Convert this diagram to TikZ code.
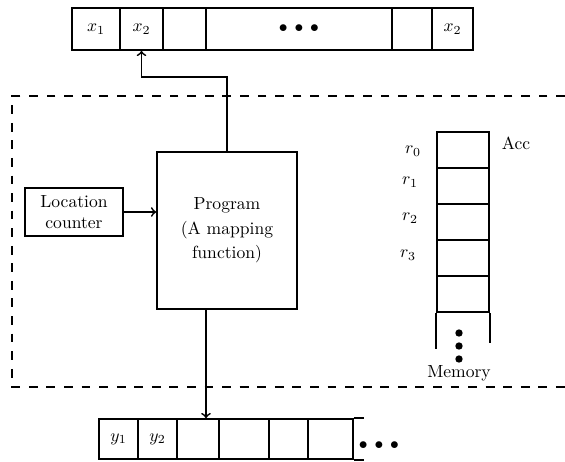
\documentclass[tikz,border=0pt]{standalone}
\usepackage{amsmath}
\usepackage{amssymb}
\usepackage{tikz}

\begin{document}
\begin{tikzpicture}[x=0.02cm,y=-0.02cm,line width=1pt,
  every node/.style={inner sep=0pt},
  cell/.style={draw,minimum height=0.84cm},
  outcell/.style={draw,minimum height=0.8cm},
  reg/.style={draw,minimum width=1.04cm,minimum height=0.72cm},
  vdot/.style={circle,fill=black,minimum size=4.2pt},
  frame/.style={dash pattern=on 5pt off 5pt}]
\useasboundingbox (0,0) rectangle (565,461);
% input tape
\node[cell,minimum width=0.96cm] (xa) at (96,29) {$x_1$};
\node[cell,minimum width=0.86cm] (xb) at (141.5,29) {$x_2$};
\node[cell,minimum width=0.86cm] (xc) at (184.5,29) {};
\node[cell,minimum width=3.72cm] (xd) at (299,29) {$\bullet\,\bullet\,\bullet$};
\node[cell,minimum width=0.8cm] (xe) at (412,29) {};
\node[cell,minimum width=0.82cm] (xf) at (452.5,29) {$x_2$};
% machine
\draw[frame] (565,96) -- (12,96) -- (12,387) -- (565,387);
\node[draw,minimum width=1.96cm,minimum height=0.96cm,align=center] (lc) at (74,212) {Location\\counter};
\node[draw,minimum width=2.8cm,minimum height=3.14cm,align=center] (prog) at (227,230.5) {Program\\[2pt](A mapping\\[2pt]function)};
\coordinate (bend) at (227,77);
\draw [->] (lc.east) to (lc.east -| prog.west);
\draw [->] (prog.north) -- (bend) -| (xb.south);
% memory
\node[reg] (m0) at (463,150) {};
\node[reg] (m1) at (463,186) {};
\node[reg] (m2) at (463,222) {};
\node[reg] (m3) at (463,258) {};
\node[reg] (m4) at (463,294) {};
\draw (m4.south west) -- ++(0,36);
\draw (m4.south east) -- ++(0,30);
\node (r0) at (413,151) {$r_0$};
\node (r1) at (410,182) {$r_1$};
\node (r2) at (410,218) {$r_2$};
\node (r3) at (408,255) {$r_3$};
\node (acc) at (516,143) {Acc};
\node[vdot] (md1) at (459,333) {};
\node[vdot] (md2) at (459,346) {};
\node[vdot] (md3) at (459,359) {};
\node (mem) at (459,373) {Memory};
% output tape
\node[outcell,minimum width=0.78cm] (ya) at (118.5,439) {$y_1$};
\node[outcell,minimum width=0.78cm] (yb) at (157.5,439) {$y_2$};
\node[outcell,minimum width=0.84cm] (yc) at (198,439) {};
\node[outcell,minimum width=1cm] (yd) at (244,439) {};
\node[outcell,minimum width=0.78cm] (ye) at (288.5,439) {};
\node[outcell,minimum width=0.9cm] (yf) at (330.5,439) {};
\draw (yf.north east) -- ++(10,0);
\draw (yf.south east) -- ++(10,0);
\node (ydots) at (379,446) {$\bullet\,\bullet\,\bullet$};
\draw [->] ([xshift=-0.42cm]prog.south) to ([xshift=-0.42cm]prog.south |- yc.north);
\end{tikzpicture}
\end{document}
